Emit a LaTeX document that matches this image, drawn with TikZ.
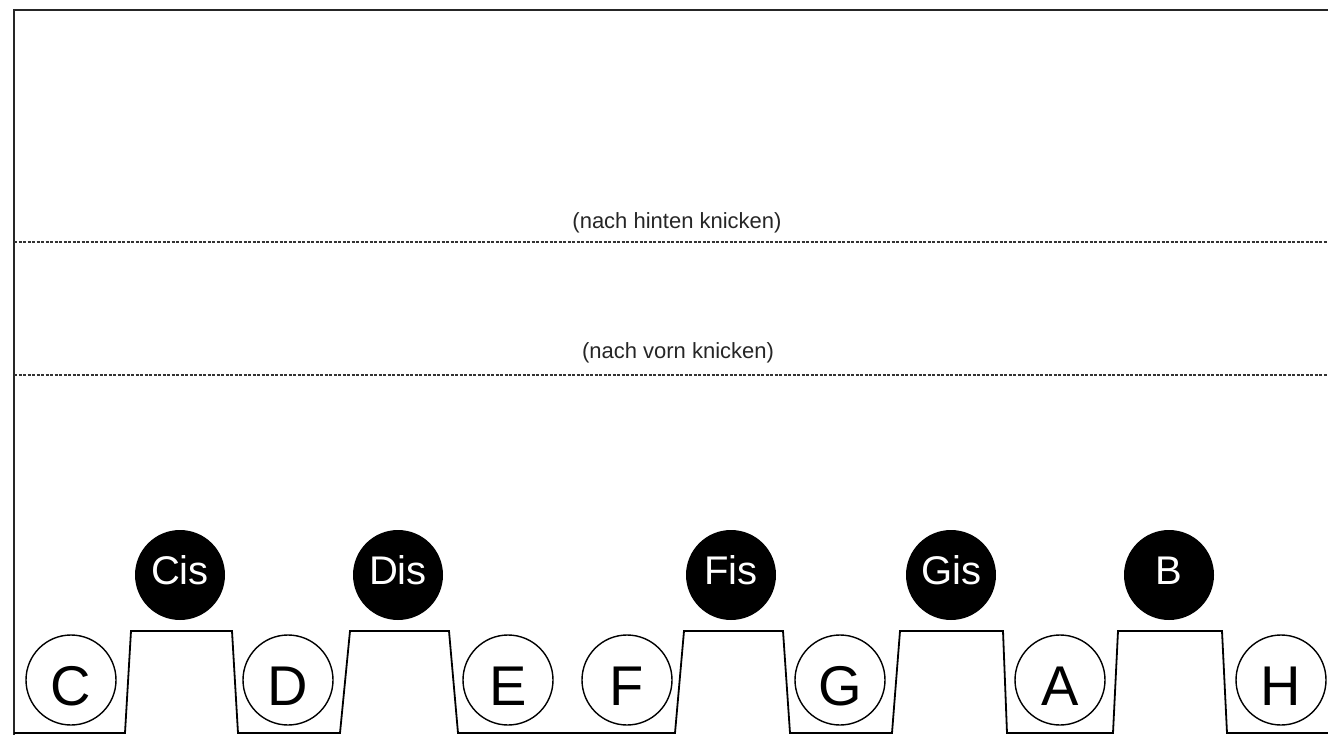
\documentclass[tikz,border=0pt]{standalone}
\usepackage{fontspec}
\setmainfont{Liberation Sans}
\begin{document}
\begin{tikzpicture}[x=1pt,y=-1pt,
  frame/.style={line width=2.4pt,black!85},
  fold/.style={line width=1.5pt,black!80,dash pattern=on 3pt off 1.5pt},
  foldtext/.style={font=\fontsize{22}{22}\selectfont,text=black!85,inner sep=0pt},
  whitekey/.style={circle,draw,line width=1.4pt,minimum size=90pt,inner sep=0pt,
     font=\fontsize{56}{56}\selectfont,text height=50pt,text depth=0pt},
  blackkey/.style={circle,fill=black,minimum size=90pt,inner sep=0pt,text=white,
     font=\fontsize{40}{40}\selectfont,text height=29pt,text depth=10pt},
  profile/.style={line width=1.8pt,line join=miter}]
\useasboundingbox (0,0) rectangle (1328,735);
% frame
\draw[frame] (14,736) -- (14,10) -- (1330,10);
% fold lines
\coordinate (h1) at (14,242); \coordinate (h2) at (1330,242);
\coordinate (v1) at (14,375); \coordinate (v2) at (1330,375);
\draw[fold] (h1) -- (h2);
\draw[fold] (v1) -- (v2);
\node[foldtext] (th) at (677,223) {(nach hinten knicken)};
\node[foldtext] (tv) at (678,353) {(nach vorn knicken)};
% key profile
\draw[profile] (14,733) -- (125,733) -- (131,631) -- (232,631) -- (238,733)
  -- (340,733) -- (350,631) -- (449,631) -- (458,733)
  -- (675,733) -- (684,631) -- (783,631) -- (790,733)
  -- (892,733) -- (900,631) -- (1003,631) -- (1007,733)
  -- (1113,733) -- (1118,631) -- (1222,631) -- (1227,733) -- (1330,733);
% white keys
\node[whitekey] (C) at (71,680) {C};
\node[whitekey] (D) at (288,680) {D};
\node[whitekey] (E) at (508,680) {E};
\node[whitekey] (F) at (627,680) {F};
\node[whitekey] (G) at (840,680) {G};
\node[whitekey] (A) at (1060,680) {A};
\node[whitekey] (H) at (1281,680) {H};
% black keys
\node[blackkey] (Cis) at (180,575) {Cis};
\node[blackkey] (Dis) at (398,575) {Dis};
\node[blackkey] (Fis) at (731,575) {Fis};
\node[blackkey] (Gis) at (951,575) {Gis};
\node[blackkey] (B) at (1169,575) {B};
\end{tikzpicture}
\end{document}
